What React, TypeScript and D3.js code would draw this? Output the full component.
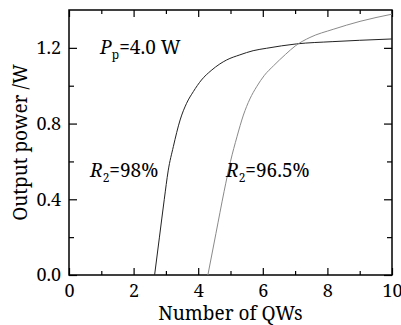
import { useEffect, useRef } from 'react';
import * as d3 from 'd3';

// R2 = 98% curve (Number of QWs, output power W)
const QW_98 = [2.65, 2.8, 2.95, 3.07, 3.23, 3.44, 3.64, 3.85, 4.1, 4.4, 4.67, 4.88, 5.29, 5.7, 6.12, 7.05, 8.17, 9.0, 10.0];
const P_98 = [0, 0.2, 0.4, 0.55, 0.678, 0.819, 0.907, 0.969, 1.03, 1.08, 1.115, 1.136, 1.163, 1.185, 1.198, 1.221, 1.233, 1.24, 1.247];

// R2 = 96.5% curve
const QW_965 = [4.3, 4.55, 4.8, 5.0, 5.2, 5.4, 5.6, 5.81, 6.05, 6.33, 6.7, 7.02, 7.46, 8.18, 9.01, 10.0];
const P_965 = [0, 0.22, 0.44, 0.6, 0.73, 0.845, 0.93, 0.995, 1.055, 1.105, 1.165, 1.212, 1.255, 1.298, 1.34, 1.378];

const X_TICKS = [0, 2, 4, 6, 8, 10];
const X_MINOR = [1, 3, 5, 7, 9];
const Y_TICKS = [0, 0.4, 0.8, 1.2];
const Y_MINOR = [0.2, 0.6, 1.0];

const FONT = '"Noto Serif", "DejaVu Serif", serif';

export default function App() {
  const svgRef = useRef<SVGSVGElement>(null);

  useEffect(() => {
    const svg = d3.select(svgRef.current);
    svg.selectAll('*').remove();

    const left = 69, right = 392, top = 10, bottom = 275;
    const x = d3.scaleLinear().domain([0, 10]).range([left, right]);
    const y = d3.scaleLinear().domain([0, 1.4]).range([bottom, top]);

    const styleAxis = (g) => {
      g.attr('font-family', FONT).attr('font-size', 18);
      g.select('.domain').remove();
      g.selectAll('line').attr('stroke', '#000').attr('stroke-width', 1.2);
      g.selectAll('text').attr('fill', '#000');
    };

    // bottom
    svg.append('g').attr('transform', `translate(0,${bottom})`)
      .call(d3.axisBottom(x).tickValues(X_TICKS).tickFormat(d3.format('d')).tickSize(-7).tickPadding(9))
      .call(styleAxis);
    svg.append('g').attr('transform', `translate(0,${bottom})`)
      .call(d3.axisBottom(x).tickValues(X_MINOR).tickFormat(() => '').tickSize(-4))
      .call(styleAxis);
    // top
    svg.append('g').attr('transform', `translate(0,${top})`)
      .call(d3.axisTop(x).tickValues(X_TICKS).tickFormat(() => '').tickSize(-7))
      .call(styleAxis);
    svg.append('g').attr('transform', `translate(0,${top})`)
      .call(d3.axisTop(x).tickValues(X_MINOR).tickFormat(() => '').tickSize(-4))
      .call(styleAxis);
    // left
    svg.append('g').attr('transform', `translate(${left},0)`)
      .call(d3.axisLeft(y).tickValues(Y_TICKS).tickFormat(d3.format('.1f')).tickSize(-8).tickPadding(8))
      .call(styleAxis);
    svg.append('g').attr('transform', `translate(${left},0)`)
      .call(d3.axisLeft(y).tickValues(Y_MINOR).tickFormat(() => '').tickSize(-5))
      .call(styleAxis);
    // right
    svg.append('g').attr('transform', `translate(${right},0)`)
      .call(d3.axisRight(y).tickValues(Y_TICKS).tickFormat(() => '').tickSize(-8))
      .call(styleAxis);
    svg.append('g').attr('transform', `translate(${right},0)`)
      .call(d3.axisRight(y).tickValues(Y_MINOR).tickFormat(() => '').tickSize(-5))
      .call(styleAxis);

    svg.append('rect')
      .attr('x', left).attr('y', top)
      .attr('width', right - left).attr('height', bottom - top)
      .attr('fill', 'none').attr('stroke', '#000').attr('stroke-width', 1.5);

    const line = d3.line<number[]>()
      .x((d) => x(d[0]))
      .y((d) => y(d[1]))
      .curve(d3.curveMonotoneX);

    svg.append('path')
      .datum(QW_98.map((q, i) => [q, P_98[i]]))
      .attr('d', line)
      .attr('fill', 'none').attr('stroke', '#222').attr('stroke-width', 1);
    svg.append('path')
      .datum(QW_965.map((q, i) => [q, P_965[i]]))
      .attr('d', line)
      .attr('fill', 'none').attr('stroke', '#8a8a8a').attr('stroke-width', 1);

    // axis titles
    svg.append('text')
      .attr('x', (left + right) / 2).attr('y', 320)
      .attr('text-anchor', 'middle')
      .attr('font-family', FONT).attr('font-size', 19)
      .text('Number of QWs');
    svg.append('text')
      .attr('transform', `translate(27,${(top + bottom) / 2}) rotate(-90)`)
      .attr('text-anchor', 'middle')
      .attr('font-family', FONT).attr('font-size', 19)
      .text('Output power /W');

    // annotations
    const note = (px, py, main, sub, rest) => {
      const t = svg.append('text')
        .attr('x', px).attr('y', py)
        .attr('font-family', FONT).attr('font-size', 19);
      t.append('tspan').attr('font-style', 'italic').text(main);
      t.append('tspan').attr('font-size', 12).attr('dy', 5).text(sub);
      t.append('tspan').attr('dy', -5).text(rest);
    };
    note(100, 54, 'P', 'p', '=4.0 W');
    note(90, 177, 'R', '2', '=98%');
    note(226, 177, 'R', '2', '=96.5%');
  }, []);

  return (
    <svg
      ref={svgRef}
      width={401}
      height={325}
      style={{ position: 'absolute', left: 0, top: 0, background: '#fff' }}
    />
  );
}
